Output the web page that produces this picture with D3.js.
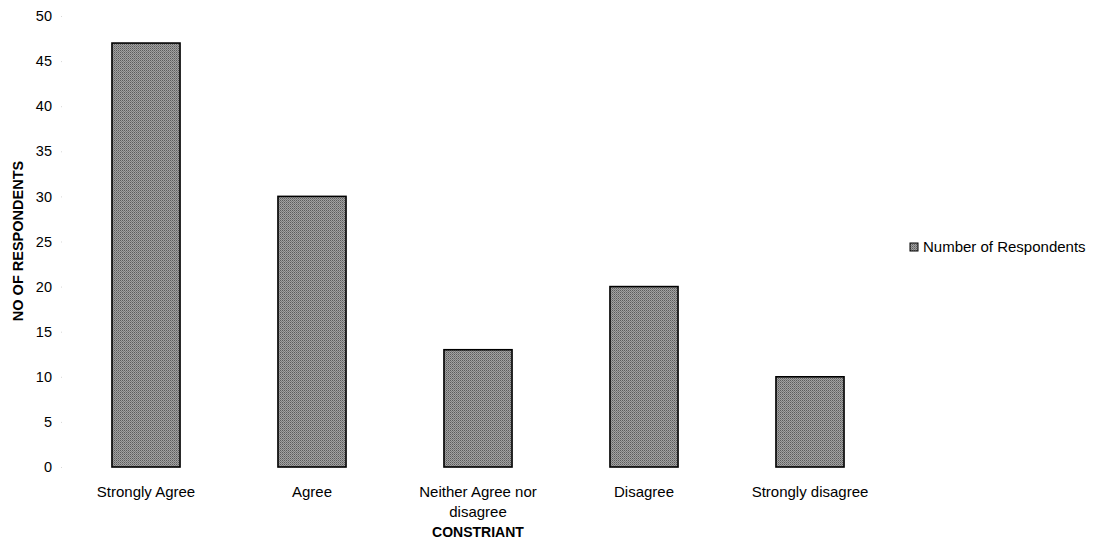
<!DOCTYPE html>
<html>
<head>
<meta charset="utf-8">
<script src="https://cdn.jsdelivr.net/npm/d3@7"></script>
<style>
  body { margin: 0; background: #fff; }
  text { font-family: "Liberation Sans", Arial, sans-serif; fill: #000; }
</style>
</head>
<body>
<svg width="1103" height="541"></svg>
<script>
var svg = d3.select("svg");

// data
var categories = ["Strongly Agree", "Agree", "Neither Agree nor disagree", "Disagree", "Strongly disagree"];
var respondents = [47, 30, 13, 20, 10];
var yTicks = [0, 5, 10, 15, 20, 25, 30, 35, 40, 45, 50];

// plot area
var plot = { left: 63, right: 893, top: 16, bottom: 467 };

var xScale = d3.scaleBand().domain(categories).range([plot.left, plot.right]).padding(0);
var yScale = d3.scaleLinear().domain([0, 50]).range([plot.bottom, plot.top]);
var barW = xScale.bandwidth() * 0.41;

// dithered grey fill like the scanned original
var defs = svg.append("defs");
var pat = defs.append("pattern")
    .attr("id", "dither")
    .attr("width", 2).attr("height", 2)
    .attr("patternUnits", "userSpaceOnUse");
pat.append("rect").attr("width", 2).attr("height", 2).attr("fill", "#a2a2a2");
pat.append("rect").attr("width", 1).attr("height", 1).attr("fill", "#5c5c5c");
pat.append("rect").attr("x", 1).attr("y", 1).attr("width", 1).attr("height", 1).attr("fill", "#7a7a7a");

// y axis (labels only, no line)
var yAxis = d3.axisLeft(yScale).tickValues(yTicks).tickSize(0).tickPadding(0);
var yG = svg.append("g")
    .attr("transform", "translate(52,0)")
    .call(yAxis);
yG.select(".domain").remove();
yG.selectAll("text")
    .style("font-size", "14.5px")
    .style("font-family", "'Liberation Sans', Arial, sans-serif")
    .attr("fill", "#000");

// faint tick dots
svg.selectAll(".tickdot")
    .data(yTicks)
    .enter().append("rect")
    .attr("class", "tickdot")
    .attr("x", 61).attr("width", 1).attr("height", 1)
    .attr("y", d => yScale(d))
    .attr("fill", "#d8d8d8");

// bars
svg.selectAll(".bar")
    .data(categories)
    .enter().append("rect")
    .attr("class", "bar")
    .attr("x", d => xScale(d) + (xScale.bandwidth() - barW) / 2)
    .attr("y", (d, i) => yScale(respondents[i]))
    .attr("width", barW)
    .attr("height", (d, i) => yScale(0) - yScale(respondents[i]))
    .attr("fill", "url(#dither)")
    .attr("stroke", "#000")
    .attr("stroke-width", 1.6);

// category labels
var catLabels = {
    "Neither Agree nor disagree": ["Neither Agree nor", "disagree"]
};
svg.selectAll(".cat")
    .data(categories)
    .enter().append("text")
    .attr("class", "cat")
    .attr("text-anchor", "middle")
    .style("font-size", "15px")
    .each(function (d) {
        var lines = catLabels[d] || [d];
        var t = d3.select(this);
        lines.forEach((ln, j) => {
            t.append("tspan")
                .attr("x", xScale(d) + xScale.bandwidth() / 2)
                .attr("y", 497 + j * 20)
                .text(ln);
        });
    });

// axis titles
svg.append("text")
    .attr("x", (plot.left + plot.right) / 2)
    .attr("y", 537)
    .attr("text-anchor", "middle")
    .style("font-size", "14px")
    .style("font-weight", "bold")
    .text("CONSTRIANT");

svg.append("text")
    .attr("transform", "translate(23,241) rotate(-90)")
    .attr("text-anchor", "middle")
    .style("font-size", "14.5px")
    .style("font-weight", "bold")
    .text("NO OF RESPONDENTS");

// legend
svg.append("rect")
    .attr("x", 910).attr("y", 243)
    .attr("width", 8).attr("height", 8)
    .attr("fill", "url(#dither)")
    .attr("stroke", "#000")
    .attr("stroke-width", 1);
svg.append("text")
    .attr("x", 923)
    .attr("y", 252)
    .style("font-size", "15px")
    .text("Number of Respondents");
</script>
</body>
</html>
